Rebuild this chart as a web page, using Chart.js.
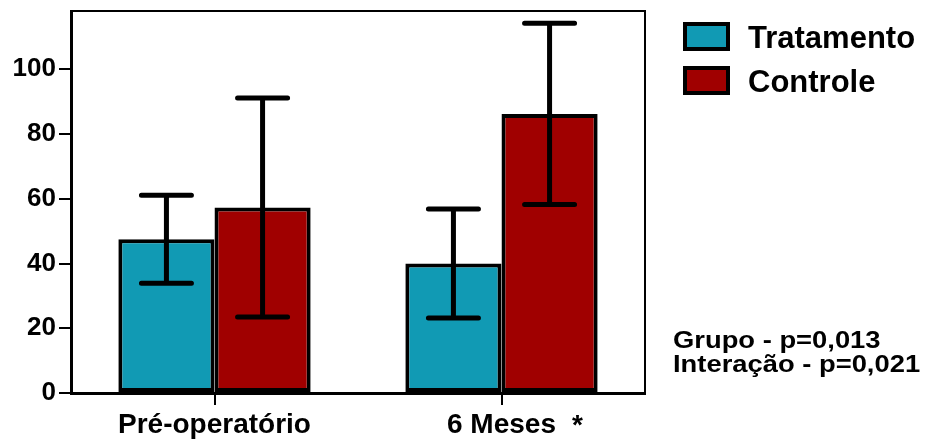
<!DOCTYPE html>
<html>
<head>
<meta charset="utf-8">
<script src="https://cdn.jsdelivr.net/npm/chart.js@4/dist/chart.umd.min.js"></script>
<style>
  body { margin: 0; background: white; }
  #chart { display: block; }
</style>
</head>
<body>
<canvas id="chart" width="930" height="441"></canvas>
<script>
// data
var categories = ['Pré-operatório', '6 Meses']
var categoryMarks = ['', '*']
var tratamento = [47.5, 40.0]
var tratamentoSD = [13.6, 16.8]
var controle = [57.3, 86.2]
var controleSD = [33.8, 28.0]
var yTicks = [0, 20, 40, 60, 80, 100]
var notes = ['Grupo - p=0,013', 'Interação - p=0,021']

var font = '"Liberation Sans", Arial, sans-serif'
var teal = '#119AB4'
var red = '#A00000'

// error bars, frame, legend and notes
var extras = {
    id: 'extras',
    afterDatasetsDraw: function(chart) {
        var c = chart.ctx
        var y = chart.scales.y
        var sds = [tratamentoSD, controleSD]
        c.save()
        c.strokeStyle = 'black'
        c.lineWidth = 5
        c.lineCap = 'round'
        chart.data.datasets.forEach(function(ds, i) {
            var meta = chart.getDatasetMeta(i)
            meta.data.forEach(function(bar, j) {
                var top = y.getPixelForValue(ds.data[j] + sds[i][j])
                var bot = y.getPixelForValue(ds.data[j] - sds[i][j])
                c.beginPath()
                c.moveTo(bar.x, top); c.lineTo(bar.x, bot)
                c.moveTo(bar.x - 25, top); c.lineTo(bar.x + 25, top)
                c.moveTo(bar.x - 25, bot); c.lineTo(bar.x + 25, bot)
                c.stroke()
            })
        })
        c.restore()
    },
    afterDraw: function(chart) {
        var c = chart.ctx
        var a = chart.chartArea
        c.save()
        // top and right frame
        c.strokeStyle = 'black'
        c.lineWidth = 2
        c.beginPath()
        c.moveTo(a.left, a.top)
        c.lineTo(a.right, a.top)
        c.lineTo(a.right, a.bottom)
        c.stroke()

        // legend
        var items = [['Tratamento', teal], ['Controle', red]]
        items.forEach(function(it, i) {
            var by = 24 + i * 44
            c.fillStyle = it[1]
            c.fillRect(a.right + 40, by, 43, 25)
            c.lineWidth = 4
            c.strokeStyle = 'black'
            c.strokeRect(a.right + 40, by, 43, 25)
            c.fillStyle = 'black'
            c.font = 'bold 31px ' + font
            c.textBaseline = 'alphabetic'
            c.fillText(it[0], a.right + 103, by + 24)
        })

        // notes (the original type is a little wide)
        c.font = 'bold 24px ' + font
        notes.forEach(function(t, i) {
            c.save()
            c.translate(a.right + 28, 348 + i * 24)
            c.scale(1.14, 1)
            c.fillText(t, 0, 0)
            c.restore()
        })

        // marks after category labels
        var x = chart.scales.x
        c.font = 'bold 28px ' + font
        c.textAlign = 'center'
        categoryMarks.forEach(function(m, i) {
            if (m) c.fillText(m, x.getPixelForValue(i) + 76, 434)
        })
        c.restore()
    }
}

var ctx = document.getElementById('chart').getContext('2d')
var chart = new Chart(ctx, {
    type: 'bar',
    data: {
        labels: categories,
        datasets: [{
            label: 'Tratamento',
            data: tratamento,
            backgroundColor: teal,
            borderColor: 'black',
            borderWidth: 4,
            borderSkipped: false
        }, {
            label: 'Controle',
            data: controle,
            backgroundColor: red,
            borderColor: 'black',
            borderWidth: 4,
            borderSkipped: false
        }]
    },
    options: {
        responsive: false,
        animation: false,
        devicePixelRatio: 1,
        layout: { padding: { top: 11, right: 285, left: 0, bottom: 0 } },
        datasets: { bar: { categoryPercentage: 0.67, barPercentage: 1.0 } },
        plugins: { legend: { display: false }, tooltip: { enabled: false } },
        scales: {
            x: {
                afterFit: function(s) { s.height = 48; s.paddingLeft = 0; s.paddingRight = 0 },
                grid: { drawOnChartArea: false, offset: false, color: 'black', lineWidth: 2, tickLength: 12 },
                border: { color: 'black', width: 3 },
                ticks: { color: 'black', font: { family: font, size: 28, weight: 'bold' }, padding: 3, maxRotation: 0 }
            },
            y: {
                min: 0,
                max: 118,
                afterFit: function(s) { s.width = 71; s.paddingTop = 0; s.paddingBottom = 0 },
                afterBuildTicks: function(s) {
                    s.ticks = yTicks.map(function(v) { return { value: v } })
                },
                grid: { drawOnChartArea: false, color: 'black', lineWidth: 2, tickLength: 12 },
                border: { color: 'black', width: 3 },
                ticks: { color: 'black', font: { family: font, size: 26, weight: 'bold' }, padding: 3 }
            }
        }
    },
    plugins: [extras]
})
</script>
</body>
</html>
